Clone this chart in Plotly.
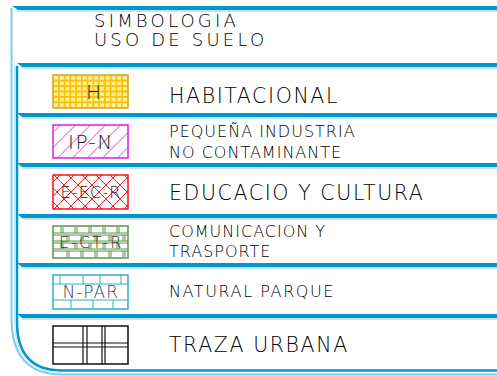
import plotly.graph_objects as go
import json

# ---- content ----
title_lines = ["SIMBOLOGIA", "USO DE SUELO"]
codes = ["H", "IP-N", "E-EC-R", "E-CT-R", "N-PAR", ""]
labels = [["HABITACIONAL"],
          ["PEQUEÑA INDUSTRIA", "NO CONTAMINANTE"],
          ["EDUCACIO Y CULTURA"],
          ["COMUNICACION Y", "TRASPORTE"],
          ["NATURAL PARQUE"],
          ["TRAZA URBANA"]]
label_sizes = [20.5, 16, 20.5, 16, 16, 20.5]
code_sizes = [20, 20, 16, 16, 17, 14]
code_spacing = [0, 1.5, 1.2, 2, 1, 0]
code_colors = ["#222222", "#222222", "#302020", "#303a2a", "#2a3f48", "#000000"]

# ---- geometry (pixel space) ----
W, H = 497, 376
seps = [63, 113, 163, 214, 263, 314]
bottom = 369
label_dy = [5, 1, 2, 0, 0, 1]
SX0, SX1 = 53, 128
TX = 167
DARK = "#0098CC"
LIGHT = "#7FCBEA"
FONT = "DejaVu Sans"
TXT = "#000000"

fig = go.Figure()
shapes = []
annotations = []
spacing = {}

def band(y, x0=17):
    shapes.append(dict(type="path", path=f"M {x0},{y} L {W},{y} L {W},{y+4} L {x0+5},{y+4} Z",
                       fillcolor=DARK, line=dict(width=0), layer="above"))
    shapes.append(dict(type="line", x0=x0+5, x1=W, y0=y+5, y1=y+5, line=dict(color=LIGHT, width=1), layer="above"))

# outer light frame
shapes.append(dict(type="path",
                   path=f"M 11.5,8 L 11.5,318 Q 11.5,374.5 62,374.5 L {W},374.5",
                   line=dict(color=LIGHT, width=2)))
# inner dark frame
shapes.append(dict(type="path",
                   path=f"M 17,66 L 17,322 Q 17,370.5 62,370.5 L {W},370.5",
                   line=dict(color=DARK, width=2.5)))
shapes.append(dict(type="path",
                   path=f"M 14.5,60 L 14.5,320 Q 14.5,372.5 62,372.5",
                   line=dict(color="#C5E6F4", width=1)))
# top band
shapes.append(dict(type="path", path=f"M 12,6 L {W},6 L {W},10 L 18,10 Z",
                   fillcolor=DARK, line=dict(width=0)))
shapes.append(dict(type="line", x0=18, x1=W, y0=11, y1=11, line=dict(color=LIGHT, width=1)))
for s in seps:
    band(s)

# title
for j, t in enumerate(title_lines):
    annotations.append(dict(x=92, y=20.5 + 19 * j, text=t, showarrow=False, xanchor="left", yanchor="middle",
                            align="left", font=dict(family=FONT, size=18, color=TXT, weight=300)))
    spacing[t] = 3.2

def seg(x0, y0, x1, y1, color, width=1):
    shapes.append(dict(type="line", x0=x0, y0=y0, x1=x1, y1=y1, line=dict(color=color, width=width),
                       layer="below"))

def diag(x0, y0, x1, y1, step, color, direction=1, width=1):
    if direction == 1:
        c = x0 + y0 + step / 2
        while c < x1 + y1:
            xa = max(x0, c - y1); xb = min(x1, c - y0)
            if xb > xa:
                seg(xa, c - xa, xb, c - xb, color, width)
            c += step
    else:
        c = x0 - y1 + step / 2
        while c < x1 - y0:
            xa = max(x0, c + y0); xb = min(x1, c + y1)
            if xb > xa:
                seg(xa, xa - c, xb, xb - c, color, width)
            c += step

def box(y0, y1, fill, color):
    shapes.append(dict(type="rect", x0=SX0, x1=SX1, y0=y0, y1=y1, fillcolor=fill,
                       line=dict(width=0), layer="below"))
    return dict(type="rect", x0=SX0, x1=SX1, y0=y0, y1=y1, fillcolor="rgba(0,0,0,0)",
                line=dict(color=color, width=1.5), layer="above")

borders = []
for i in range(6):
    top = seps[i] + 5
    bot = seps[i + 1] if i + 1 < len(seps) else bottom
    y0, y1 = top + 7, bot - 5
    cy = (top + bot) / 2 + label_dy[i]
    if i == 0:
        borders.append(box(y0, y1, "#FFF0A6", "#C8B040"))
        xs, ys = [], []
        nx, ny = 13, 6
        for r in range(ny):
            for c in range(nx):
                xs.append(SX0 + 3 + c * (SX1 - SX0 - 6) / (nx - 1))
                ys.append(y0 + 3 + r * (y1 - y0 - 6) / (ny - 1))
        fig.add_trace(go.Scatter(x=xs, y=ys, mode="markers", hoverinfo="skip",
                                 marker=dict(symbol="circle-open", size=6.5, color="#FFC400",
                                             line=dict(width=1.2))))
    elif i == 1:
        borders.append(box(y0, y1, "white", "#E020E0"))
        diag(SX0, y0, SX1, y1, 15, "#E838E8", 1)
    elif i == 2:
        borders.append(box(y0, y1, "white", "#FF1010"))
        diag(SX0, y0, SX1, y1, 14, "#FF2020", 1)
        diag(SX0, y0, SX1, y1, 14, "#FF2020", -1)
    elif i == 3:
        g = "#5E9150"
        borders.append(box(y0, y1, "white", g))
        hh = (y1 - y0) / 4
        for k in range(1, 4):
            seg(SX0, y0 + k * hh - 1, SX1, y0 + k * hh - 1, g)
            seg(SX0, y0 + k * hh + 1, SX1, y0 + k * hh + 1, g)
        for k in range(4):
            off = 6 if k % 2 else 0
            xv = SX0 + 8 + off
            while xv < SX1 - 2:
                seg(xv, y0 + k * hh + 1, xv, y0 + (k + 1) * hh - 1, g)
                seg(xv + 2, y0 + k * hh + 1, xv + 2, y0 + (k + 1) * hh - 1, g)
                xv += 14
    elif i == 4:
        cc = "#33AACC"
        borders.append(box(y0, y1, "white", cc))
        seg(SX0, y0 + 9, SX1, y0 + 9, cc)
        seg(SX0, y1 - 9, SX1, y1 - 9, cc)
        for xv in [SX0 + 7, SX0 + 30, SX0 + 47, SX0 + 68]:
            seg(xv, y0, xv, y0 + 9, cc)
        for xv in [SX0 + 18, SX0 + 40, SX0 + 60]:
            seg(xv, y1 - 9, xv, y1, cc)
    else:
        k = "#111111"
        borders.append(box(y0, y1, "white", k))
        ym = (y0 + y1) / 2
        seg(SX0, ym - 2, SX1, ym - 2, k, 1.2)
        seg(SX0, ym + 2, SX1, ym + 2, k, 1.2)
        for xv in [83, 87, 102, 105]:
            seg(xv, y0, xv, y1, k, 1.2)
    if codes[i]:
        annotations.append(dict(x=(SX0 + SX1) / 2 + (3 if i == 0 else 0), y=(y0 + y1) / 2, text=codes[i],
                                showarrow=False, xanchor="center", yanchor="middle",
                                font=dict(family=FONT, size=code_sizes[i], color=code_colors[i], weight=300)))
        if code_spacing[i]:
            spacing[codes[i]] = code_spacing[i]
    lines = labels[i]
    if len(lines) == 1:
        annotations.append(dict(x=TX, y=cy, text=lines[0], showarrow=False, xanchor="left", yanchor="middle",
                                align="left",
                                font=dict(family=FONT, size=label_sizes[i], color=TXT, weight=300)))
        spacing[lines[0]] = 1.6
    else:
        for j, t in enumerate(lines):
            annotations.append(dict(x=TX, y=cy - 10 + 20.5 * j, text=t, showarrow=False, xanchor="left",
                                    yanchor="middle", align="left",
                                    font=dict(family=FONT, size=label_sizes[i], color=TXT, weight=300)))
            spacing[t] = 1.0

shapes.extend(borders)

fig.update_layout(width=W, height=H, margin=dict(l=0, r=0, t=0, b=0),
                  paper_bgcolor="white", plot_bgcolor="white", showlegend=False,
                  xaxis=dict(range=[0, W], visible=False, fixedrange=True),
                  yaxis=dict(range=[H, 0], visible=False, fixedrange=True),
                  shapes=shapes, annotations=annotations)

post = ("document.body.style.margin='0';document.body.style.padding='0';"
        "var sp=" + json.dumps(spacing) + ";"
        "document.querySelectorAll('.annotation-text').forEach(function(e){"
        "var s=sp[e.textContent];if(s){e.style.letterSpacing=s+'px';}});")
fig.write_html("out.html", config={"displayModeBar": False}, post_script=post)
